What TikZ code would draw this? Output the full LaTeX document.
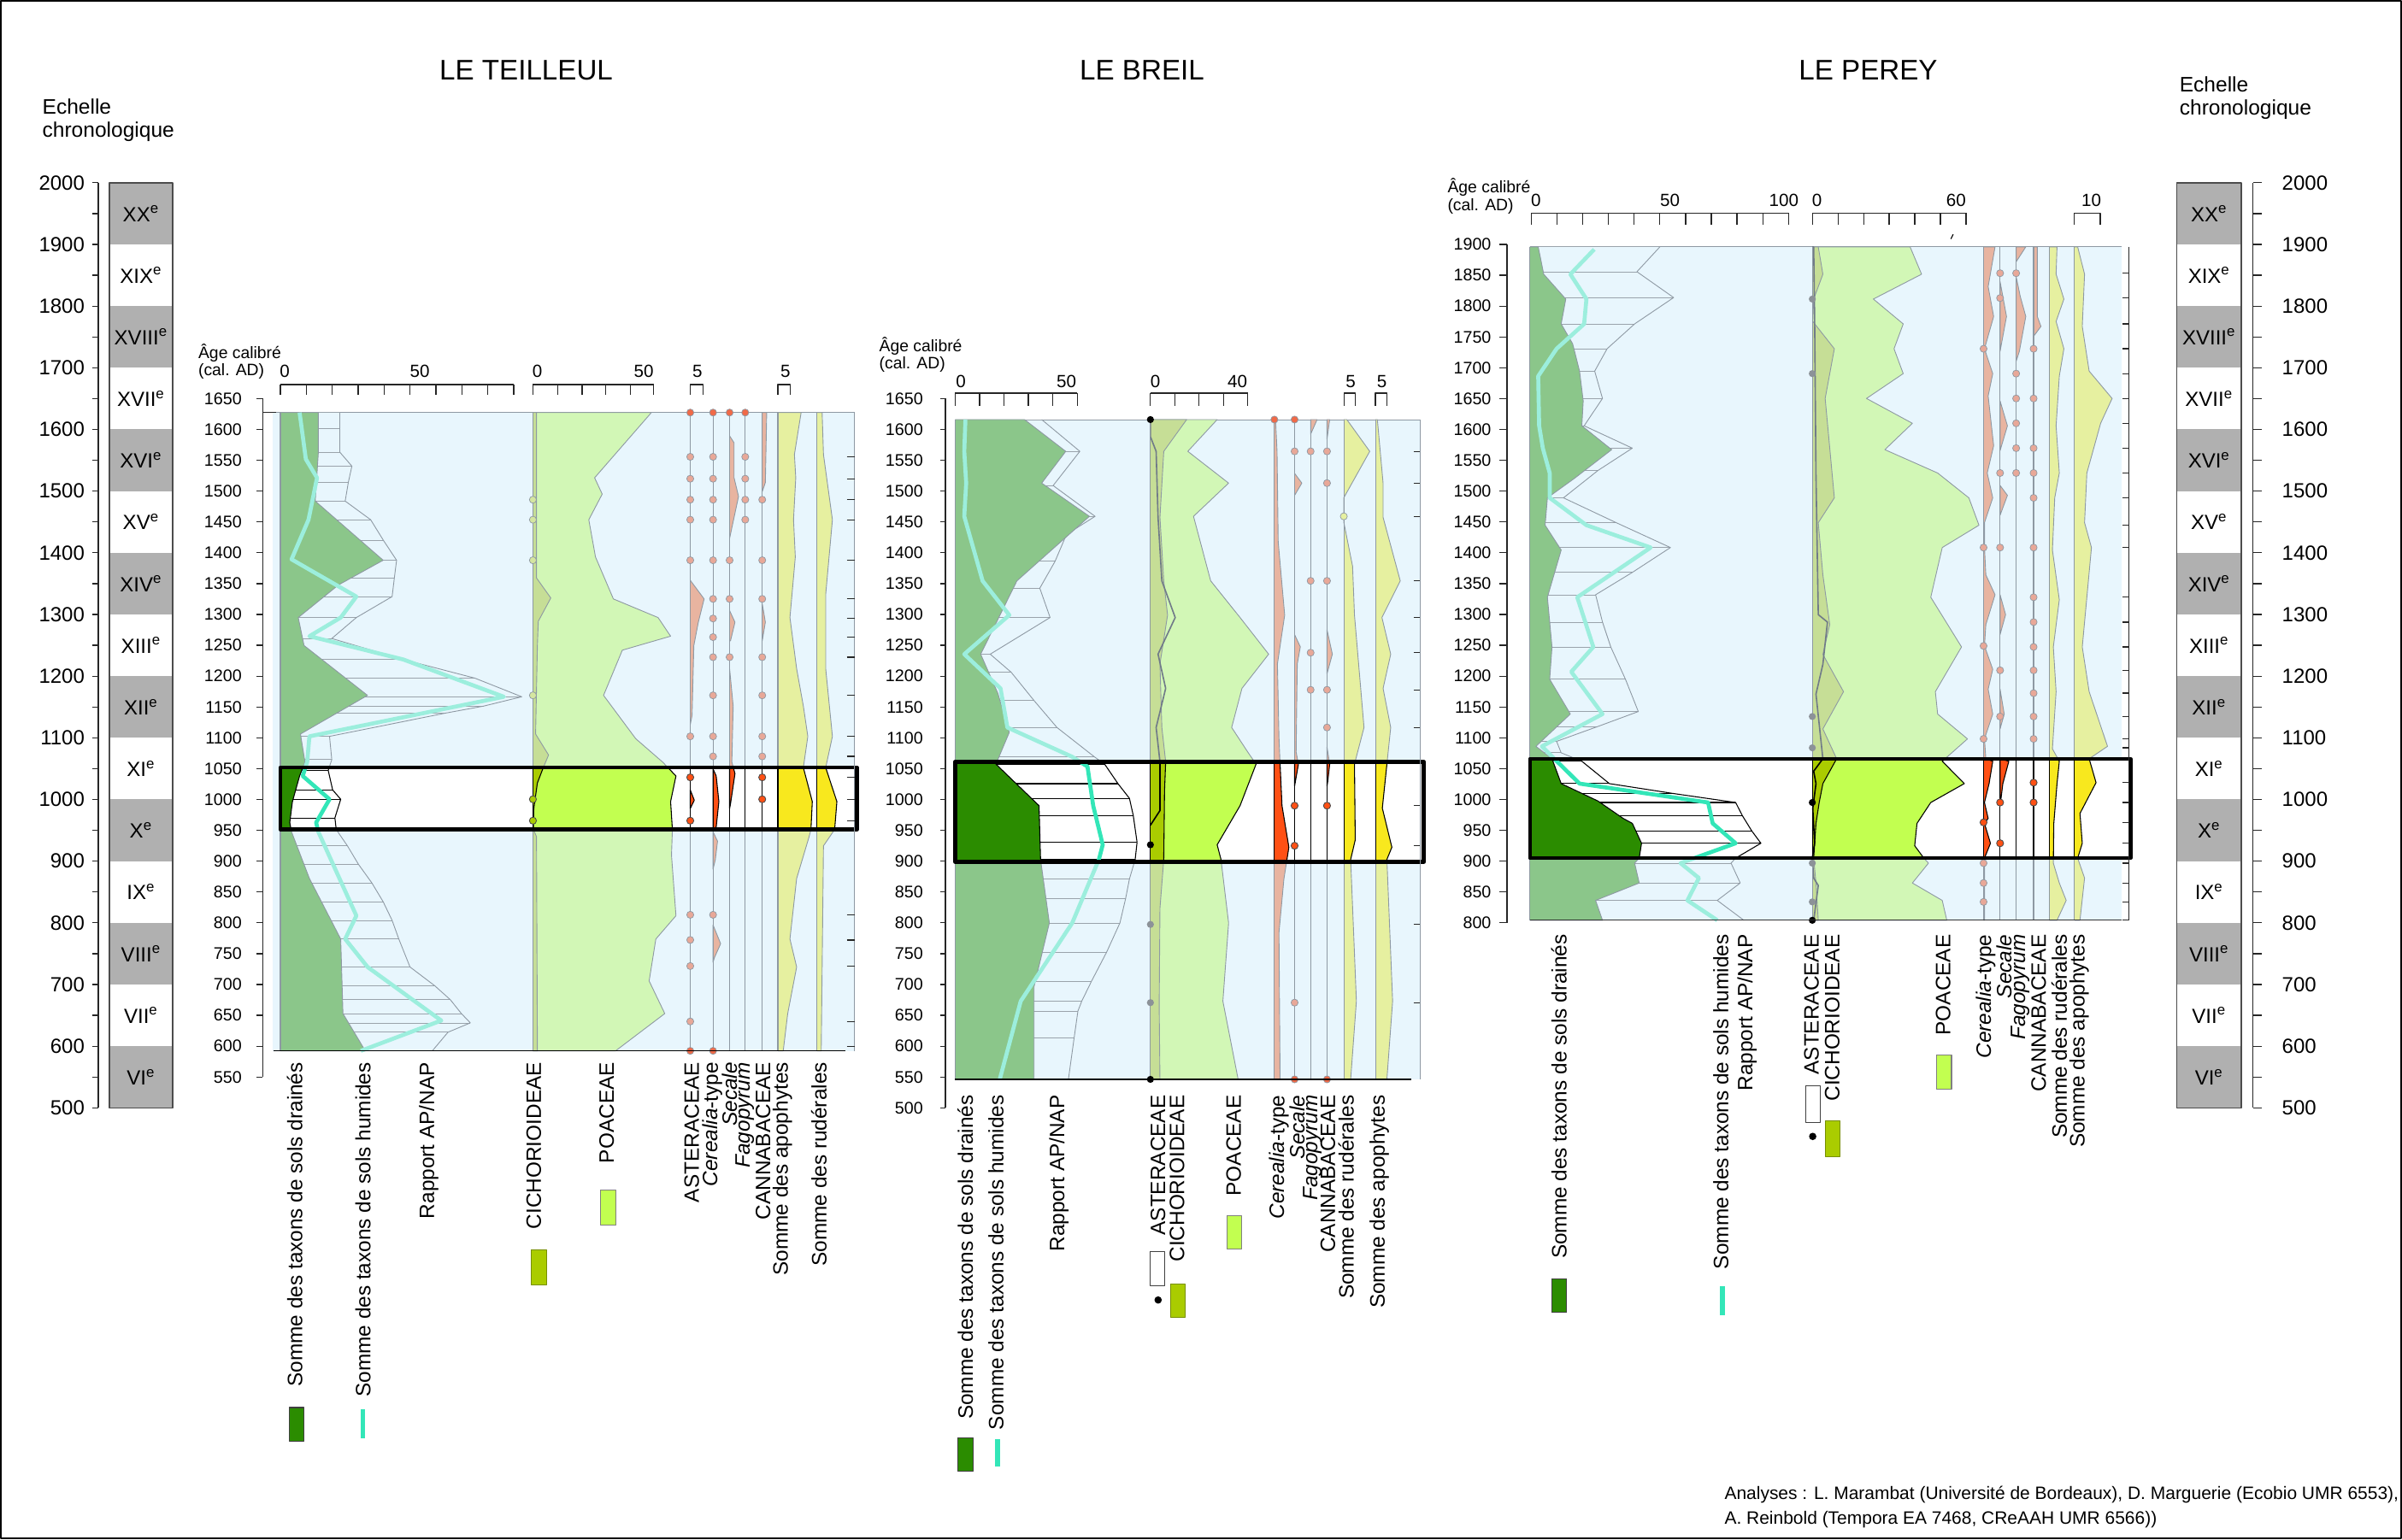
\documentclass[tikz,border=0pt]{standalone}
\usepackage{fontspec}
\setmainfont{Liberation Sans}
\definecolor{bgblue}{HTML}{E8F6FD}
\definecolor{lineg}{HTML}{8E99A3}
\definecolor{hatchg}{HTML}{9AA3AB}
\definecolor{cgrF}{HTML}{8BC68A}
\definecolor{cgrB}{HTML}{2B8C00}
\definecolor{ccyF}{HTML}{9CEEDD}
\definecolor{ccyB}{HTML}{33E6B8}
\definecolor{cckF}{HTML}{C6DE96}
\definecolor{cckB}{HTML}{AACC00}
\definecolor{cpoF}{HTML}{D2F7B6}
\definecolor{cpoB}{HTML}{C2FF50}
\definecolor{cpkF}{HTML}{E8B4A0}
\definecolor{cpkB}{HTML}{FF5014}
\definecolor{cyeF}{HTML}{E6F0A0}
\definecolor{cyeB}{HTML}{F8E81E}
\definecolor{cdpF}{HTML}{E8A898}
\definecolor{cdgF}{HTML}{D5E6A0}
\definecolor{cdaF}{HTML}{8C9298}
\definecolor{centg}{HTML}{B0B0B0}
\definecolor{cedge}{HTML}{F06A48}
\definecolor{casF}{HTML}{707A88}
\tikzset{
  olF/.style={draw=lineg, line width=0.5pt},
  olB/.style={draw=black, line width=0.6pt},
  asF/.style={draw=casF, line width=0.9pt},
  asB/.style={draw=black, line width=0.9pt},
  grF/.style={fill=cgrF}, grB/.style={fill=cgrB},
  cyF/.style={draw=ccyF, line width=2.6pt},
  cyB/.style={draw=ccyB, line width=2.6pt},
  hatF/.style={draw=hatchg, line width=0.45pt},
  hatB/.style={draw=black, line width=0.6pt},
  ckF/.style={fill=cckF}, ckB/.style={fill=cckB},
  poF/.style={fill=cpoF}, poB/.style={fill=cpoB},
  pkF/.style={fill=cpkF}, pkB/.style={fill=cpkB},
  yeF/.style={fill=cyeF}, yeB/.style={fill=cyeB},
  zlF/.style={draw=lineg, line width=0.6pt}, zlB/.style={draw=black, line width=0.6pt},
  dpF/.style={fill=cdpF, draw=lineg, line width=0.4pt},
  dpB/.style={fill=cpkB, draw=black!70, line width=0.5pt},
  dgF/.style={fill=cdgF, draw=lineg, line width=0.4pt},
  dgB/.style={fill=cckB, draw=black!70, line width=0.5pt},
  daF/.style={fill=cdaF}, daB/.style={fill=black},
  dyF/.style={fill=cyeF, draw=lineg, line width=0.4pt},
  dyB/.style={fill=cyeB, draw=black, line width=0.4pt},
  dedge/.style={fill=cedge, draw=lineg, line width=0.4pt},
  dblack/.style={fill=black},
  hbox/.style={draw=black, line width=2.6pt},
  vlab/.style={rotate=90, anchor=east, inner sep=0pt, font=\fontsize{13.6}{14}\selectfont},
  axnum/.style={anchor=east, inner sep=0pt, font=\fontsize{11}{12}\selectfont},
  sclab/.style={inner sep=0pt, font=\fontsize{11.5}{12}\selectfont},
  chnum/.style={inner sep=0pt, font=\fontsize{13.4}{14}\selectfont},
  titl/.style={inner sep=0pt, font=\fontsize{18.5}{20}\selectfont},
  lgbox/.style={draw=black!75, line width=0.6pt},
  tk/.style={draw=black!85, line width=0.7pt},
}
\newcommand\Yr[1]{260.24+0.4027*(1650-#1)}
\newcommand\myarea[6]{%
  \fill[#1] (#3,#4) \foreach \px/\py in #6 {-- (\px,\py)} -- (#3,#5) -- cycle;
  \draw[#2] (#3,#4) \foreach \px/\py in #6 {-- (\px,\py)} -- (#3,#5);}
\newcommand\mypline[3]{\draw[#1] (#2) \foreach \px/\py in #3 {-- (\px,\py)};}
\newcommand\myhatch[3]{\foreach \px/\py in #3 {\draw[#1] (#2,\py) -- (\px,\py);}}
\newcommand\mydots[3]{\foreach \py in {#3} {\path[#1] (#2,\py) circle[radius=2.3pt];}}
% ---------------- LE TEILLEUL data
\def\TG{290/150, 290/235, 283/340, 435/467, 335/520, 245/590, 258/650, 400/757, 250/840, 260/900, 248/930, 232/985, 226/1030, 230/1050, 270/1150, 340/1280, 345/1440, 395/1520}
\def\TH{338/150, 338/185, 338/235, 365/265, 357/300, 350/340, 407/380, 436/425, 465/467, 460/505, 455/545, 375/590, 320/635, 480/680, 640/720, 745/760, 660/780, 575/795, 315/845, 320/895, 312/918, 322/960, 340/980, 327/1020, 330/1045, 355/1080, 380/1120, 410/1160, 435/1200, 455/1240, 470/1280, 495/1340, 550/1380, 585/1410, 610/1440, 630/1460, 580/1480, 545/1520}
\def\TC{248/150, 262/250, 287/290, 268/380, 230/465, 375/545, 340/590, 270/630, 480/680, 705/760, 270/845, 265/900, 255/930, 315/980, 285/1030, 290/1050, 375/1230, 350/1280, 400/1340, 565/1455, 385/1520}
\def\TK{778/150, 778/505, 810/548, 782/598, 780/650, 776/840, 805/885, 792/915, 780/945, 772/1000, 771/1045, 778/1060, 780/1520}
\def\TP{1035/150, 908/290, 925/325, 895/380, 910/460, 950/550, 1050/590, 1078/630, 970/660, 928/757, 1000/850, 1060/900, 1090/930, 1078/985, 1082/1045, 1080/1100, 1090/1230, 1045/1280, 1030/1370, 1065/1440, 955/1520}
\def\TA{1370/150, 1355/240, 1358/290, 1353/380, 1357/460, 1345/590, 1360/700, 1375/780, 1385/845, 1375/912, 1395/985, 1392/1045, 1388/1060, 1360/1150, 1345/1280, 1360/1340, 1340/1440, 1330/1520}
\def\TR{1417/150, 1420/240, 1440/380, 1425/540, 1425/700, 1440/845, 1425/912, 1450/985, 1445/1045, 1420/1080, 1415/1520}
\newcommand\TeilPlot[1]{%
  \myarea{po#1}{ol#1}{770}{150}{1520}{\TP}
  \myarea{ck#1}{ol#1}{770}{150}{1520}{\TK}
  \myhatch{hat#1}{205}{\TH}
  \mypline{ol#1}{338,150}{\TH}
  \myarea{gr#1}{ol#1}{205}{150}{1520}{\TG}
  \mypline{cy#1}{248,150}{\TC}
  \filldraw[pk#1,ol#1] (1122,510)--(1153,550)--(1140,600)--(1130,650)--(1126,800)--(1122,820)--cycle;
  \filldraw[pk#1,ol#1] (1122,960)--(1131,982)--(1122,1000)--cycle;
  \filldraw[pk#1,ol#1] (1173,1050)--(1183,1070)--(1178,1110)--(1173,1130)--cycle;
  \filldraw[pk#1,ol#1] (1173,1250)--(1190,1290)--(1176,1320)--(1173,1330)--cycle;
  \filldraw[pk#1,ol#1] (1173,915)--(1180,930)--(1186,985)--(1180,1040)--(1173,1045)--cycle;
  \filldraw[pk#1,ol#1] (1210,200)--(1220,215)--(1220,290)--(1230,330)--(1210,420)--cycle;
  \filldraw[pk#1,ol#1] (1210,575)--(1222,600)--(1212,640)--(1210,640)--cycle;
  \filldraw[pk#1,ol#1] (1210,700)--(1218,780)--(1215,900)--(1222,925)--(1212,990)--(1210,1000)--cycle;
  \filldraw[pk#1,ol#1] (1283,150)--(1293,150)--(1290,300)--(1283,320)--cycle;
  \filldraw[pk#1,ol#1] (1283,560)--(1290,600)--(1283,640)--cycle;
  \myarea{ye#1}{ol#1}{1318}{150}{1520}{\TA}
  \myarea{ye#1}{ol#1}{1405}{150}{1520}{\TR}
  \foreach \zx in {205,770,1122,1173,1210,1245,1283,1318,1405} {\draw[zl#1] (\zx,150)--(\zx,1520);}
  \mydots{dp#1}{1122}{245,292,337,380,467,845,933,1026,1228,1282,1338,1457}
  \mydots{dp#1}{1173}{245,292,337,380,467,550,592,632,675,757,845,888,1228}
  \mydots{dp#1}{1210}{467,550,675}
  \mydots{dp#1}{1245}{245,292,337,380}
  \mydots{dp#1}{1283}{337,467,550,675,757,845,888,933,980}
  \mydots{dg#1}{770}{337,380,467,757,980,1026}
}
% ---------------- LE BREIL data
\def\BG{445/200, 553/265, 490/330, 615/398, 425/530, 330/680, 375/760, 405/840, 370/905, 483/990, 487/1100, 510/1230, 470/1360, 470/1550}
\def\BH{490/200, 590/265, 520/335, 630/398, 555/435, 525/490, 485/545, 512/605, 355/680, 410/717, 470/775, 530/830, 628/890, 655/905, 690/945, 720/975, 730/1010, 740/1065, 735/1100, 720/1140, 710/1180, 695/1230, 660/1290, 620/1350, 595/1390, 585/1410, 575/1465, 560/1550}
\def\BC{290/200, 287/265, 292/330, 287/398, 335/530, 405/600, 287/680, 382/750, 400/830, 570/890, 610/910, 625/990, 650/1070, 640/1100, 570/1230, 435/1390, 380/1550}
\def\BK{870/200, 810/265, 800/400, 810/530, 820/600, 800/700, 805/830, 815/900, 812/960, 810/1100, 800/1200, 798/1400, 800/1550}
\def\BP{950/200, 873/265, 980/330, 888/398, 933/530, 1010/605, 1085/680, 1015/750, 988/830, 1030/880, 1052/905, 1010/990, 950/1070, 960/1100, 980/1230, 965/1390, 1005/1550}
\def\BS{775/235, 790/265, 795/400, 805/530, 840/605, 795/680, 815/750, 790/830, 800/900, 800/1000, 775/1030}
\def\BCe{1103/200, 1107/265, 1110/450, 1127/600, 1108/700, 1112/850, 1115/905, 1120/990, 1138/1075, 1125/1140, 1112/1250, 1115/1550}
\def\BR{1290/200, 1350/265, 1282/360, 1282/410, 1305/500, 1310/600, 1335/830, 1310/905, 1312/1060, 1300/1100, 1315/1390, 1300/1550}
\def\BA{1370/200, 1385/330, 1385/400, 1430/530, 1382/605, 1405/680, 1385/750, 1405/830, 1395/905, 1383/995, 1408/1075, 1395/1100, 1410/1390, 1395/1550}
\newcommand\BreilPlot[1]{%
  \myarea{po#1}{ol#1}{775}{200}{1550}{\BP}
  \myarea{ck#1}{ol#1}{775}{200}{1550}{\BK}
  \mypline{as#1}{775,200}{\BS}
  \myhatch{hat#1}{263}{\BH}
  \mypline{ol#1}{490,200}{\BH}
  \myarea{gr#1}{ol#1}{263}{200}{1550}{\BG}
  \mypline{cy#1}{290,200}{\BC}
  \myarea{pk#1}{ol#1}{1100}{200}{1550}{\BCe}
  \filldraw[pk#1,ol#1] (1153,310)--(1172,330)--(1153,355)--cycle;
  \filldraw[pk#1,ol#1] (1153,640)--(1168,665)--(1160,700)--(1157,880)--(1163,905)--(1153,950)--cycle;
  \filldraw[pk#1,ol#1] (1195,200)--(1212,200)--(1195,230)--cycle;
  \filldraw[pk#1,ol#1] (1238,200)--(1245,200)--(1238,240)--cycle;
  \filldraw[pk#1,ol#1] (1238,630)--(1252,680)--(1238,720)--cycle;
  \filldraw[pk#1,ol#1] (1238,870)--(1245,905)--(1240,940)--(1238,950)--cycle;
  \myarea{ye#1}{ol#1}{1282}{200}{1550}{\BR}
  \myarea{ye#1}{ol#1}{1365}{200}{1550}{\BA}
  \foreach \zx in {263,775,1100,1153,1195,1238,1282,1365} {\draw[zl#1] (\zx,200)--(\zx,1550);}
  \mydots{da#1}{775}{1070,1233,1393}
  \mydots{dp#1}{1153}{265,990,1072,1393}
  \mydots{dp#1}{1195}{265,530,677,753}
  \mydots{dp#1}{1238}{265,330,530,753,830,990}
  \mydots{dy#1}{1282}{398}
}
% ---------------- LE PEREY data
\def\PG{250/160, 262/215, 310/265, 300/315, 325/355, 340/410, 348/470, 345/520, 410/568, 330/625, 270/665, 265/720, 300/770, 270/865, 280/965, 275/1030, 320/1100, 245/1165, 280/1190, 300/1240, 380/1275, 435/1310, 455/1320, 475/1360, 470/1390, 460/1400, 470/1440, 375/1475, 390/1515}
\def\PH{515/160, 465/210, 545/262, 460/315, 400/365, 373/410, 390/465, 350/520, 455/565, 380/610, 305/665, 420/715, 538/765, 455/815, 375/860, 390/915, 408/965, 440/1030, 468/1095, 380/1125, 290/1155, 300/1178, 345/1195, 405/1240, 545/1260, 680/1278, 695/1305, 715/1335, 735/1360, 680/1390, 670/1400, 690/1440, 640/1475, 698/1515}
\def\PC{372/165, 320/215, 355/265, 350/315, 290/365, 250/420, 252/520, 260/565, 275/615, 275/665, 355/720, 495/765, 335/865, 370/965, 322/1015, 390/1100, 258/1165, 285/1190, 340/1240, 620/1278, 630/1320, 680/1360, 590/1390, 560/1400, 600/1430, 575/1475, 640/1515}
\def\PK{860/160, 870/215, 850/265, 848/310, 895/365, 875/465, 895/665, 860/715, 870/820, 885/920, 870/980, 915/1055, 870/1130, 900/1190, 870/1240, 862/1278, 855/1320, 850/1390, 855/1440, 860/1515}
\def\PP{1060/160, 1085/215, 980/265, 1045/315, 1025/365, 1045/415, 965/465, 1065/515, 1005/568, 1120/615, 1188/665, 1210/720, 1130/765, 1105/865, 1172/965, 1115/1055, 1120/1100, 1185/1150, 1130/1195, 1178/1240, 1105/1278, 1075/1320, 1070/1365, 1090/1390, 1100/1400, 1065/1440, 1130/1475, 1140/1515}
\def\PS{850/160, 852/300, 855/620, 860/900, 880/915, 870/1000, 855/1060, 870/1190, 850/1215, 855/1240, 848/1290, 852/1360, 847/1390, 850/1430, 860/1445, 850/1515}
\def\PCe{1245/160, 1230/240, 1242/300, 1222/365, 1240/415, 1230/460, 1242/560, 1228/615, 1240/665, 1222/715, 1222/765, 1225/820, 1245/860, 1225/920, 1222/963, 1240/1010, 1230/1050, 1240/1100, 1222/1150, 1225/1190, 1240/1195, 1232/1240, 1222/1278, 1230/1310, 1222/1320, 1235/1360, 1222/1390, 1222/1515}
\def\PR{1380/160, 1378/215, 1395/265, 1378/310, 1395/365, 1385/420, 1378/520, 1385/615, 1375/665, 1370/770, 1385/870, 1372/965, 1378/1055, 1370/1170, 1385/1195, 1380/1240, 1373/1320, 1372/1400, 1385/1440, 1400/1475, 1380/1515}
\def\PA{1425/160, 1440/215, 1435/320, 1450/410, 1500/465, 1475/515, 1460/565, 1445/615, 1440/715, 1455/765, 1445/865, 1435/965, 1450/1055, 1490/1165, 1450/1190, 1465/1238, 1430/1300, 1435/1360, 1425/1390, 1440/1430, 1430/1515}
\newcommand\PereyPlot[1]{%
  \myarea{po#1}{ol#1}{847}{160}{1515}{\PP}
  \myarea{ck#1}{ol#1}{847}{160}{1515}{\PK}
  \mypline{as#1}{847,160}{\PS}
  \myhatch{hat#1}{232}{\PH}
  \mypline{ol#1}{515,160}{\PH}
  \myarea{gr#1}{ol#1}{232}{160}{1515}{\PG}
  \mypline{cy#1}{372,165}{\PC}
  \myarea{pk#1}{ol#1}{1220}{160}{1515}{\PCe}
  \filldraw[pk#1,ol#1] (1256,230)--(1270,300)--(1256,370)--cycle;
  \filldraw[pk#1,ol#1] (1256,470)--(1272,520)--(1256,570)--cycle;
  \filldraw[pk#1,ol#1] (1256,640)--(1272,660)--(1256,700)--cycle;
  \filldraw[pk#1,ol#1] (1256,860)--(1268,900)--(1256,940)--cycle;
  \filldraw[pk#1,ol#1] (1256,1050)--(1265,1100)--(1256,1130)--cycle;
  \filldraw[pk#1,ol#1] (1256,1190)--(1275,1195)--(1262,1240)--(1258,1270)--(1256,1280)--cycle;
  \filldraw[pk#1,ol#1] (1291,160)--(1312,160)--(1291,190)--cycle;
  \filldraw[pk#1,ol#1] (1291,220)--(1300,260)--(1312,300)--(1298,370)--(1291,390)--cycle;
  \filldraw[pk#1,ol#1] (1329,160)--(1337,160)--(1337,300)--(1345,320)--(1329,340)--cycle;
  \myarea{ye#1}{ol#1}{1363}{160}{1515}{\PR}
  \myarea{ye#1}{ol#1}{1418}{160}{1515}{\PA}
  \foreach \zx in {232,847,1220,1256,1291,1329,1363,1418} {\draw[zl#1] (\zx,160)--(\zx,1515);}
  \mydots{da#1}{847}{265,415,1105,1168,1278,1400,1478}
  \mydots{dp#1}{1220}{365,765,963,1150,1318,1400,1440,1478}
  \mydots{dp#1}{1256}{213,263,615,765,1012,1105,1278,1360}
  \mydots{dp#1}{1291}{213,415,465,515,565,615}
  \mydots{dp#1}{1329}{365,465,565,615,665,765,865,915,965,1012,1058,1105,1150,1238,1278}
}
\begin{document}
\begin{tikzpicture}[x=1pt, y=-1pt, line join=round]
\useasboundingbox (0,0) rectangle (1568,1005);
\fill[white] (0,0) rectangle (1568,1005);
\draw[black, line width=1pt] (0.5,0.5) rectangle (1567.5,1004.5);

% ================= chronological scales
\foreach \c [count=\i from 0] in {XX,XIX,XVIII,XVII,XVI,XV,XIV,XIII,XII,XI,X,IX,VIII,VII,VI} {
  \pgfmathsetmacro\ya{260.24+0.4027*(100*\i-350)}
  \pgfmathsetmacro\yb{\ya+40.27}
  \ifodd\i\relax \def\cc{white}\else \def\cc{centg}\fi
  \fill[\cc] (71.3,\ya) rectangle (112.7,\yb);
  \fill[\cc] (1421,\ya) rectangle (1463,\yb);
  \node[chnum] (cl\i) at (92,{\ya+20.1}) {\c\textsuperscript{e}};
  \node[chnum] (cr\i) at (1442,{\ya+20.1}) {\c\textsuperscript{e}};
}
\draw[black!70, line width=0.9pt] (71.3,{\Yr{2000}}) rectangle (112.7,{\Yr{500}});
\draw[black!70, line width=0.9pt] (1421,{\Yr{2000}}) rectangle (1463,{\Yr{500}});
\draw[tk] (64.2,{\Yr{2000}}) -- (64.2,{\Yr{500}});
\draw[tk] (1470.8,{\Yr{2000}}) -- (1470.8,{\Yr{500}});
\foreach \yr in {500,550,...,2000} {
  \draw[tk] (60,{\Yr{\yr}}) -- (64.2,{\Yr{\yr}});
  \draw[tk] (1470.8,{\Yr{\yr}}) -- (1476.4,{\Yr{\yr}});
}
\foreach \yr in {500,600,...,2000} {
  \node[chnum, anchor=east] at (55.4,{\Yr{\yr}}) {\yr};
  \node[chnum, anchor=west] at (1489.5,{\Yr{\yr}}) {\yr};
}
\node[chnum, anchor=west, font=\fontsize{13.7}{14}\selectfont] (echL1) at (27.5,69.4) {Echelle};
\node[chnum, anchor=west, font=\fontsize{13.7}{14}\selectfont] (echL2) at (27.5,85.9) {chronologique};
\node[chnum, anchor=west, font=\fontsize{13.7}{14}\selectfont] (echR1) at (1422.6,55) {Echelle};
\node[chnum, anchor=west, font=\fontsize{13.7}{14}\selectfont] (echR2) at (1422.6,71.5) {chronologique};

% ================= titles
\node[titl] (tTeil) at (343.5,46) {LE TEILLEUL};
\node[titl] (tBreil) at (745.5,46) {LE BREIL};
\node[titl] (tPerey) at (1219.5,46) {LE PEREY};

% ================= LE TEILLEUL
\begin{scope}[x=0.2918pt, y=-0.3042pt, shift={(123.2pt,-223.74pt)}]
  \fill[bgblue] (188,150) rectangle (1490,1520);
  \draw[lineg, line width=0.5pt] (188,150) -- (1490,150);
  \TeilPlot{F}
  \fill[white] (205,912) rectangle (1495,1045);
  \begin{scope}
    \clip (205,912) rectangle (1495,1045);
    \TeilPlot{B}
  \end{scope}
  \foreach \zx in {1122,1173,1210,1245} {\path[dedge] (\zx,150) circle[radius=2.3pt];}
  \foreach \zx in {1122,1173} {\path[dedge] (\zx,1520) circle[radius=2.3pt];}
  \draw[hbox] (205,912) rectangle (1495,1045);
  \draw[lineg, line width=0.6pt] (1490,150) -- (1490,1520);
  \foreach \py in {245,292,337,380,467,550,592,632,675,757,845,888,933,980,1026,1228,1282,1338,1457,1510} {\draw[tk] (1472,\py)--(1490,\py);}
  \draw[black, line width=0.8pt] (190,1520) -- (1470,1520);
  \draw[tk] (205,90) -- (727,90);
  \foreach \k in {0,...,9} {\draw[tk] ({205+58*\k},90) -- ({205+58*\k},112);}
  \draw[tk] (770,90) -- (1040,90);
  \foreach \zx in {770,825,880,933,988,1040} {\draw[tk] (\zx,90) -- (\zx,112);}
  \draw[tk] (1122,112) -- (1122,90) -- (1150,90) -- (1150,112);
  \draw[tk] (1318,112) -- (1318,90) -- (1345,90) -- (1345,112);
  \node[sclab] at (215,62) {0};
  \node[sclab] at (517,62) {50};
  \node[sclab] at (780,62) {0};
  \node[sclab] at (1018,62) {50};
  \node[sclab] at (1138,62) {5};
  \node[sclab] at (1335,62) {5};
\end{scope}
\draw[tk] (171.5,{\Yr{1650}}) -- (171.5,{\Yr{550}});
\draw[tk] (171.5,269.4) -- (180,269.4);
\foreach \yr in {550,600,...,1650} {
  \draw[tk] (167.4,{\Yr{\yr}}) -- (171.5,{\Yr{\yr}});
  \node[axnum] at (158,{\Yr{\yr}}) {\yr};
}
\node[anchor=west, inner sep=0pt, font=\fontsize{10.8}{12}\selectfont] (ageT) at (129.3,230.7) {Âge calibré};
\node[anchor=west, inner sep=0pt, font=\fontsize{10.8}{12}\selectfont] (calT) at (129.3,242.7) {(cal. AD)};
% labels
\node[vlab] (T1) at (192.4,693.5) {Somme des taxons de sols drainés};
\node[vlab] (T2) at (237,693.5) {Somme des taxons de sols humides};
\node[vlab] (T3) at (279.9,693.5) {Rapport AP/NAP};
\node[vlab] (T4) at (348.5,693.5) {CICHORIOIDEAE};
\node[vlab] (T5) at (396,693.5) {POACEAE};
\node[vlab] (T6) at (451.5,693.5) {ASTERACEAE};
\node[vlab] (T7) at (465.2,693.5) {{\itshape Cerealia}-type};
\node[vlab] (T8) at (476.3,693.5) {\itshape Secale};
\node[vlab] (T9) at (486.5,693.5) {\itshape Fagopyrum};
\node[vlab] (T10) at (498.2,693.5) {CANNABACEAE};
\node[vlab] (T11) at (510.7,693.5) {Somme des apophytes};
\node[vlab] (T12) at (534.6,693.5) {Somme des rudérales};
\filldraw[fill=cgrB, lgbox] (188.9,919) rectangle (198.5,941);
\fill[ccyB] (235.5,920) rectangle (238.5,939);
\filldraw[fill=cckB, draw=cckB!70!black, line width=0.6pt] (347,816) rectangle (356.6,839);
\filldraw[fill=cpoB, draw=black!50, line width=0.6pt] (392.2,777) rectangle (401.9,800);

% ================= LE BREIL
\begin{scope}[x=0.249pt, y=-0.3191pt, shift={(558pt,-210.13pt)}]
  \fill[bgblue] (263,200) rectangle (1482,1550);
  \draw[lineg, line width=0.5pt] (263,200) -- (1482,200);
  \BreilPlot{F}
  \fill[white] (263,900) rectangle (1492,1105);
  \begin{scope}
    \clip (263,900) rectangle (1492,1105);
    \BreilPlot{B}
  \end{scope}
  \path[dblack] (775,200) circle[radius=2.3pt];
  \path[dblack] (775,1550) circle[radius=2.3pt];
  \foreach \zx/\py in {1100/200,1153/200,1153/1550,1238/1550} {\path[dedge] (\zx,\py) circle[radius=2.3pt];}
  \draw[hbox] (263,900) rectangle (1492,1105);
  \draw[lineg, line width=0.6pt] (1482,200) -- (1482,1550);
  \foreach \py in {265,330,398,530,605,677,753,830,990,1072,1233,1393} {\draw[tk] (1465,\py)--(1482,\py);}
  \draw[black, line width=1.5pt] (263,1550) -- (1460,1550);
  \draw[tk] (263,146) -- (583,146);
  \foreach \k in {0,...,5} {\draw[tk] ({263+64*\k},146) -- ({263+64*\k},172);}
  \draw[tk] (775,146) -- (1030,146);
  \foreach \k in {0,...,4} {\draw[tk] ({775+63.75*\k},146) -- ({775+63.75*\k},172);}
  \draw[tk] (1283,172) -- (1283,146) -- (1312,146) -- (1312,172);
  \draw[tk] (1365,172) -- (1365,146) -- (1395,146) -- (1395,172);
  \node[sclab] at (278,122) {0};
  \node[sclab] at (555,122) {50};
  \node[sclab] at (788,122) {0};
  \node[sclab] at (1003,122) {40};
  \node[sclab] at (1300,122) {5};
  \node[sclab] at (1382,122) {5};
\end{scope}
\draw[tk] (617.2,{\Yr{1650}}) -- (617.2,{\Yr{500}});
\foreach \yr in {500,550,...,1650} {
  \draw[tk] (613.8,{\Yr{\yr}}) -- (617.2,{\Yr{\yr}});
  \node[axnum] at (602.7,{\Yr{\yr}}) {\yr};
}
\node[anchor=west, inner sep=0pt, font=\fontsize{10.8}{12}\selectfont] (ageB) at (573.8,226) {Âge calibré};
\node[anchor=west, inner sep=0pt, font=\fontsize{10.8}{12}\selectfont] (calB) at (573.8,238.1) {(cal. AD)};
\node[vlab] (B1) at (630.2,714.9) {Somme des taxons de sols drainés};
\node[vlab] (B2) at (650.1,714.9) {Somme des taxons de sols humides};
\node[vlab] (B3) at (691.2,714.9) {Rapport AP/NAP};
\node[vlab] (B4) at (756,714.9) {ASTERACEAE};
\node[vlab] (B5) at (768.4,714.9) {CICHORIOIDEAE};
\node[vlab] (B6) at (805.3,714.9) {POACEAE};
\node[vlab] (B7) at (834.9,714.9) {{\itshape Cerealia}-type};
\node[vlab] (B8) at (846.8,714.9) {\itshape Secale};
\node[vlab] (B9) at (856.8,714.9) {\itshape Fagopyrum};
\node[vlab] (B10) at (866.8,714.9) {CANNABACEAE};
\node[vlab] (B11) at (878.7,714.9) {Somme des rudérales};
\node[vlab] (B12) at (900.4,714.9) {Somme des apophytes};
\draw[lgbox] (751,817.2) rectangle (760.2,839.5);
\fill (756,848.8) circle[radius=2.4pt];
\filldraw[fill=cckB, draw=cckB!70!black, line width=0.6pt] (764.2,838.2) rectangle (773.6,860.4);
\filldraw[fill=cpoB, draw=black!50, line width=0.6pt] (800.8,794) rectangle (810.7,815.7);
\filldraw[fill=cgrB, lgbox] (625.2,938.7) rectangle (635.2,960.4);
\fill[ccyB] (649.6,939.4) rectangle (652.6,957.3);

% ================= LE PEREY
\begin{scope}[x=0.2997pt, y=-0.3245pt, shift={(929.2pt,-109.27pt)}]
  \fill[bgblue] (232,160) rectangle (1520,1515);
  \draw[lineg, line width=0.5pt] (232,160) -- (1520,160);
  \PereyPlot{F}
  \fill[white] (232,1190) rectangle (1540,1390);
  \begin{scope}
    \clip (232,1190) rectangle (1540,1390);
    \PereyPlot{B}
  \end{scope}
  \path[dblack] (847,1515) circle[radius=2.3pt];
  \draw[hbox] (232,1190) rectangle (1540,1390);
  \draw[tk] (1537,160) -- (1537,1515);
  \foreach \py in {213,263,315,365,415,465,515,565,615,665,720,765,865,915,965,1012,1058,1105,1150,1168,1238,1278,1318,1360,1400,1440,1478,1515} {\draw[tk] (1522,\py)--(1537,\py);}
  \draw[black!80, line width=0.7pt] (232,1515) -- (1520,1515);
  \draw[tk] (235,92) -- (795,92);
  \foreach \k in {0,...,10} {\draw[tk] ({235+56*\k},92) -- ({235+56*\k},115);}
  \draw[tk] (847,92) -- (1182,92);
  \foreach \k in {0,...,6} {\draw[tk] ({847+55.833*\k},92) -- ({847+55.833*\k},115);}
  \draw[tk] (1418,115) -- (1418,92) -- (1474,92) -- (1474,115);
  \node[sclab] at (245,66) {0};
  \node[sclab] at (537,66) {50};
  \node[sclab] at (785,66) {100};
  \node[sclab] at (857,66) {0};
  \node[sclab] at (1160,66) {60};
  \node[sclab] at (1455,66) {10};
\end{scope}
\draw[line width=0.6pt] (1273.5,156) -- (1275,153);
\draw[tk] (983.7,{\Yr{1900}}) -- (983.7,{\Yr{800}});
\foreach \yr in {800,850,...,1900} {
  \draw[tk] (978.7,{\Yr{\yr}}) -- (983.7,{\Yr{\yr}});
  \node[axnum] at (973.6,{\Yr{\yr}}) {\yr};
}
\node[anchor=west, inner sep=0pt, font=\fontsize{10.8}{12}\selectfont] (ageP) at (944.8,122) {Âge calibré};
\node[anchor=west, inner sep=0pt, font=\fontsize{10.8}{12}\selectfont] (calP) at (944.8,135) {(cal. AD)};
\node[vlab] (P1) at (1017.6,610) {Somme des taxons de sols drainés};
\node[vlab] (P2) at (1123.4,610) {Somme des taxons de sols humides};
\node[vlab] (P3) at (1140.5,610) {Rapport AP/NAP};
\node[vlab] (P4) at (1182.5,610) {ASTERACEAE};
\node[vlab] (P5) at (1196,610) {CICHORIOIDEAE};
\node[vlab] (P6) at (1268.5,610) {POACEAE};
\node[vlab] (P7) at (1296.3,610) {{\itshape Cerealia}-type};
\node[vlab] (P8) at (1308.3,610) {\itshape Secale};
\node[vlab] (P9) at (1318.8,610) {\itshape Fagopyrum};
\node[vlab] (P10) at (1330.8,610) {CANNABACEAE};
\node[vlab] (P11) at (1344.3,610) {Somme des rudérales};
\node[vlab] (P12) at (1357.2,610) {Somme des apophytes};
\filldraw[fill=cgrB, lgbox] (1013,835) rectangle (1022.7,857);
\fill[ccyB] (1122.5,840) rectangle (1126,859);
\draw[lgbox] (1178.6,709) rectangle (1188.5,733);
\fill (1183.3,742) circle[radius=2.4pt];
\filldraw[fill=cckB, draw=cckB!70!black, line width=0.6pt] (1191.4,732) rectangle (1201,755);
\filldraw[fill=cpoB, draw=black!50, line width=0.6pt] (1264.3,689) rectangle (1273.9,711);

% ================= credits
\node[anchor=west, inner sep=0pt, font=\fontsize{11.7}{13}\selectfont] (cred1) at (1125.6,976) {Analyses : L. Marambat (Université de Bordeaux), D. Marguerie (Ecobio UMR 6553),};
\node[anchor=west, inner sep=0pt, font=\fontsize{11.7}{13}\selectfont] (cred2) at (1125.6,992) {A. Reinbold (Tempora EA 7468, CReAAH UMR 6566))};
\end{tikzpicture}
\end{document}
